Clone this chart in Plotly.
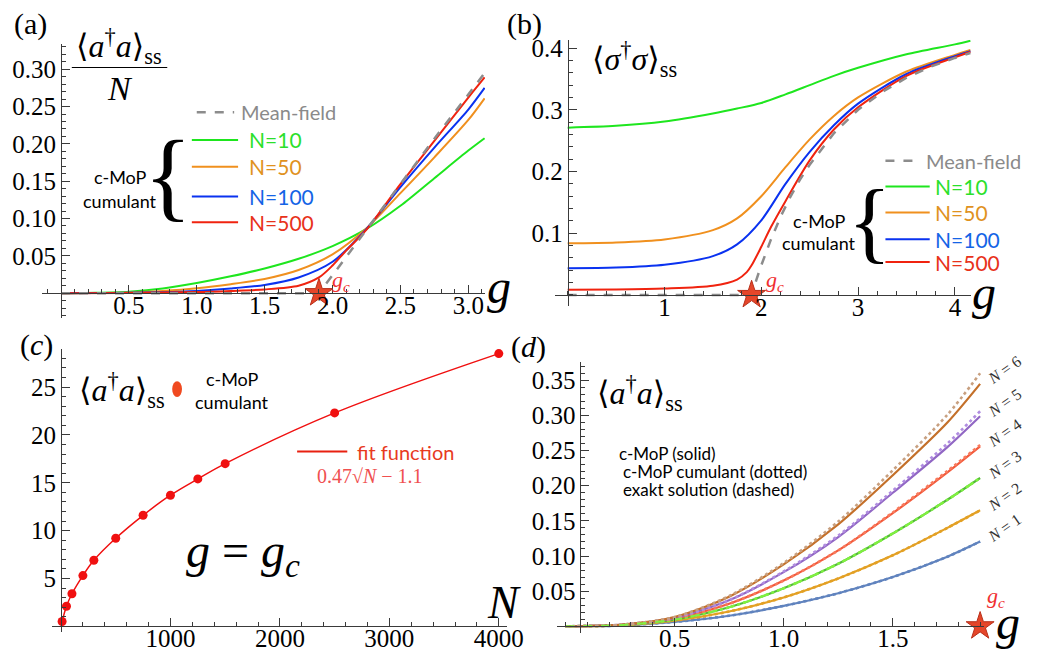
import plotly.graph_objects as go

# ---------------- data ----------------
gc = 1.9

# panel (a): <a^dag a>_ss / N vs g
a_g = [0.0, 0.25, 0.5, 0.75, 1.0, 1.25, 1.5, 1.75, 2.0, 2.25, 2.5, 2.75, 3.0, 3.12]
a_N10 = [0.0, 0.0005, 0.002, 0.0062, 0.0135, 0.0225, 0.033, 0.046, 0.063, 0.086, 0.117, 0.154, 0.191, 0.2075]
a_N50 = [0.0, 0.0002, 0.001, 0.003, 0.0065, 0.012, 0.019, 0.031, 0.052, 0.087, 0.134, 0.182, 0.232, 0.261]
a_N100 = [0.0, 0.0001, 0.0004, 0.0012, 0.003, 0.0062, 0.011, 0.021, 0.042, 0.086, 0.142, 0.195, 0.246, 0.275]
a_N500_g = [0.0, 0.5, 1.0, 1.25, 1.5, 1.75, 1.9, 2.0, 2.1, 2.25, 2.5, 2.75, 3.0, 3.12]
a_N500 = [0.0, 0.0003, 0.0015, 0.003, 0.005, 0.010, 0.021, 0.037, 0.057, 0.085, 0.146, 0.204, 0.262, 0.289]
a_mf_g = [0.0, 1.9, 2.0, 2.25, 2.5, 2.75, 3.0, 3.12]
a_mf = [0.0, 0.0, 0.024, 0.085, 0.147, 0.207, 0.266, 0.295]

# panel (b): <sigma^dag sigma>_ss vs g
b_g = [0.0, 0.5, 1.0, 1.5, 1.75, 2.0, 2.25, 2.5, 2.75, 3.0, 3.5, 4.0, 4.16]
b_N10 = [0.271, 0.274, 0.281, 0.294, 0.302, 0.311, 0.325, 0.340, 0.355, 0.368, 0.390, 0.406, 0.412]
b_N50 = [0.0836, 0.085, 0.090, 0.105, 0.124, 0.160, 0.207, 0.252, 0.290, 0.320, 0.362, 0.389, 0.397]
b_N100 = [0.0434, 0.0445, 0.049, 0.063, 0.082, 0.121, 0.180, 0.232, 0.275, 0.310, 0.358, 0.387, 0.395]
b_N500_g = [0.0, 0.5, 1.0, 1.5, 1.75, 1.85, 1.9, 2.0, 2.1, 2.25, 2.5, 2.75, 3.0, 3.5, 4.0, 4.16]
b_N500 = [0.0086, 0.009, 0.0105, 0.015, 0.025, 0.037, 0.048, 0.078, 0.110, 0.152, 0.218, 0.268, 0.304, 0.355, 0.385, 0.394]
b_mf_g = [0.0, 1.9, 1.95, 2.0, 2.1, 2.2, 2.3, 2.4, 2.5, 2.75, 3.0, 3.25, 3.5, 3.75, 4.0, 4.16]
b_mf = [0.0, 0.0, 0.025, 0.048, 0.090, 0.127, 0.159, 0.187, 0.211, 0.262, 0.300, 0.329, 0.352, 0.370, 0.384, 0.392]

# panel (c): <a^dag a>_ss at g = g_c vs N
c_N = [10, 50, 100, 200, 300, 500, 750, 1000, 1250, 1500, 2500, 4000]
c_val = [0.5, 2.1, 3.4, 5.3, 6.9, 9.2, 11.6, 13.7, 15.4, 17.0, 22.3, 28.5]

# panel (d): <a^dag a>_ss vs g for N = 1..6
d_g = [0.0, 0.1, 0.25, 0.5, 0.75, 1.0, 1.25, 1.5, 1.75, 1.9]
d_N1 = [0.0, 0.0002, 0.001, 0.0062, 0.015, 0.029, 0.047, 0.070, 0.099, 0.1205]
d_N2 = [0.0, 0.0002, 0.0013, 0.008, 0.021, 0.041, 0.068, 0.101, 0.140, 0.165]
d_N3 = [0.0, 0.0003, 0.0016, 0.0095, 0.027, 0.054, 0.089, 0.132, 0.180, 0.211]
d_N4 = [0.0, 0.0003, 0.0018, 0.011, 0.032, 0.065, 0.108, 0.161, 0.219, 0.256]
d_N5 = [0.0, 0.0004, 0.002, 0.012, 0.037, 0.077, 0.127, 0.190, 0.255, 0.299]
d_N6 = [0.0, 0.0004, 0.002, 0.013, 0.042, 0.088, 0.145, 0.215, 0.290, 0.345]
d_N4_dot = [0.0, 0.0003, 0.0018, 0.011, 0.032, 0.065, 0.108, 0.162, 0.221, 0.258]
d_N5_dot = [0.0, 0.0004, 0.002, 0.012, 0.037, 0.078, 0.129, 0.193, 0.260, 0.306]
d_N6_dot = [0.0, 0.0004, 0.002, 0.013, 0.043, 0.090, 0.149, 0.222, 0.301, 0.360]

a_ticks_x = [0.5, 1.0, 1.5, 2.0, 2.5, 3.0]
a_ticks_y = [0.05, 0.10, 0.15, 0.20, 0.25, 0.30]
b_ticks_x = [1, 2, 3, 4]
b_ticks_y = [0.1, 0.2, 0.3, 0.4]
c_ticks_x = [1000, 2000, 3000, 4000]
c_ticks_y = [5, 10, 15, 20, 25]
d_ticks_x = [0.5, 1.0, 1.5]
d_ticks_y = [0.05, 0.10, 0.15, 0.20, 0.25, 0.30, 0.35]

# ---------------- styling ----------------
W, H = 1051, 662
SERIF = "Liberation Serif, Times New Roman, DejaVu Serif, serif"
SANS = "Lato, Open Sans, sans-serif"
AX = "#3a3a3a"

C_GREEN, C_ORANGE, C_BLUE, C_RED, C_MF = "#1EE61E", "#F0901E", "#0A32F0", "#F0230F", "#8C8C8C"
T_GREEN, T_ORANGE, T_BLUE, T_RED, T_MF = "#2BE02B", "#E0921E", "#1464E6", "#E8321A", "#8A8A8A"
D_COLS = ["#6083BE", "#E3A024", "#55B83C", "#F25A3C", "#9167C4", "#C4702A"]
D_DOT = ["#6083BE", "#E3A024", "#7CF040", "#F87A5C", "#B08CE0", "#C8A080"]

fig = go.Figure()


def fmt(v, nd):
    return f"{v:.{nd}f}"


def setup(idx, xpx, ypx, xr, yr, xcross, xt, xtt, yt, ytt, xminor, yminor):
    xd = [xpx[0] / W, xpx[1] / W]
    yd = [1 - ypx[1] / H, 1 - ypx[0] / H]
    ypos = yd[0] + (0 - yr[0]) / (yr[1] - yr[0]) * (yd[1] - yd[0])
    xpos = xd[0] + (xcross - xr[0]) / (xr[1] - xr[0]) * (xd[1] - xd[0])
    common = dict(showgrid=False, zeroline=False, showline=True, linecolor=AX, linewidth=1,
                  ticks="inside", ticklen=8, tickwidth=1, tickcolor=AX,
                  tickfont=dict(family=SERIF, size=25, color="black"), anchor="free",
                  tickmode="array")
    sfx = "" if idx == 1 else str(idx)
    fig.layout["xaxis" + sfx] = dict(common, domain=xd, range=list(xr), position=ypos,
                                     tickvals=xt, ticktext=xtt, ticklabelstandoff=-10,
                                     minor=dict(ticks="inside", ticklen=4, tickwidth=1, tickcolor=AX,
                                                tickmode="linear", tick0=0, dtick=xminor, showgrid=False))
    fig.layout["yaxis" + sfx] = dict(common, domain=yd, range=list(yr), position=xpos, side="left",
                                     tickvals=yt, ticktext=ytt,
                                     minor=dict(ticks="inside", ticklen=4, tickwidth=1, tickcolor=AX,
                                                tickmode="linear", tick0=0, dtick=yminor, showgrid=False))


setup(1, (43, 493), (39, 315), (-0.1377, 3.1232), (-0.0328, 0.3342), 0.0,
      a_ticks_x, [fmt(v, 1) for v in a_ticks_x], a_ticks_y, [fmt(v, 2) for v in a_ticks_y], 0.1, 0.01)
setup(2, (564, 987), (35, 303), (-0.1322, 4.1667), (-0.0174, 0.4135), 0.0,
      b_ticks_x, [str(v) for v in b_ticks_x], b_ticks_y, [fmt(v, 1) for v in b_ticks_y], 0.2, 0.02)
setup(3, (53, 515), (347, 632), (-81, 4072), (-0.62, 28.94), 0.0,
      c_ticks_x, [str(v) for v in c_ticks_x], c_ticks_y, [str(v) for v in c_ticks_y], 200, 1)
setup(4, (566, 1000), (360, 633), (-0.039, 1.917), (-0.0099, 0.3757), 0.069,
      d_ticks_x, [fmt(v, 1) for v in d_ticks_x], d_ticks_y, [fmt(v, 2) for v in d_ticks_y], 0.1, 0.01)


def line(x, y, color, ax, width=2.0, dash=None, shape="spline"):
    fig.add_trace(go.Scatter(x=x, y=y, mode="lines", xaxis="x" + ax, yaxis="y" + ax,
                             line=dict(color=color, width=width, dash=dash, shape=shape,
                                       smoothing=0.8 if shape == "spline" else None),
                             hoverinfo="skip"))


def star(ax):
    fig.add_trace(go.Scatter(x=[gc], y=[0], mode="markers", xaxis="x" + ax, yaxis="y" + ax,
                             cliponaxis=False,
                             marker=dict(symbol="star", size=21, color="#E5462A",
                                         line=dict(color="#B8301A", width=1)),
                             hoverinfo="skip"))


# (a)
line(a_g, a_N10, C_GREEN, "")
line(a_g, a_N50, C_ORANGE, "")
line(a_g, a_N100, C_BLUE, "")
line(a_N500_g, a_N500, C_RED, "")
line(a_mf_g, a_mf, C_MF, "", width=2.5, dash="dash", shape="linear")
star("")

# (b)
line(b_g, b_N10, C_GREEN, "2")
line(b_g, b_N50, C_ORANGE, "2")
line(b_g, b_N100, C_BLUE, "2")
line(b_N500_g, b_N500, C_RED, "2")
line(b_mf_g, b_mf, C_MF, "2", width=2.5, dash="dash", shape="linear")
star("2")

# (c)
fig.add_trace(go.Scatter(x=c_N, y=c_val, mode="lines", xaxis="x3", yaxis="y3",
                         line=dict(color="#F01010", width=1.5, shape="spline"), hoverinfo="skip"))
fig.add_trace(go.Scatter(x=c_N, y=c_val, mode="markers", xaxis="x3", yaxis="y3", cliponaxis=False,
                         marker=dict(color="#F01010", size=9), hoverinfo="skip"))

# (d)
d_series = [d_N1, d_N2, d_N3, d_N4, d_N5, d_N6]
d_dots = [d_N1, d_N2, d_N3, d_N4_dot, d_N5_dot, d_N6_dot]
for i in range(6):
    line(d_g, d_series[i], D_COLS[i], "4", width=2.2)
for i in range(6):
    line(d_g, d_dots[i], D_DOT[i], "4", width=2.6, dash="dot")
line(d_g, d_N3, "#80F040", "4", width=2.0, dash="dash")
star("4")

# ---------------- annotations ----------------
anns = []
shapes = []


def ann(text, x, y, size, color="black", family=SERIF, xanchor="center", yanchor="middle", angle=0):
    anns.append(dict(text=text, x=x / W, y=1 - y / H, xref="paper", yref="paper", showarrow=False,
                     font=dict(size=size, color=color, family=family), xanchor=xanchor,
                     yanchor=yanchor, textangle=angle))


def hline(x0, x1, y, color, width=2, dash="solid"):
    shapes.append(dict(type="line", xref="paper", yref="paper", x0=x0 / W, x1=x1 / W,
                       y0=1 - y / H, y1=1 - y / H, line=dict(color=color, width=width, dash=dash)))


ATA = "⟨<i>a</i><sup>†</sup><i>a</i>⟩<sub>ss</sub>"
GC = "<i>g<sub>c</sub></i>"

# panel (a)
ann("(a)", 31, 19, 30)
ann(ATA, 121, 42, 32)
hline(73, 170, 63, "black", 1.2)
ann("<i>N</i>", 122, 84, 34)
hline(200, 238, 108, C_MF, 2.5, "dash")
ann("Mean-field", 243, 108, 20, T_MF, SANS, "left")
for yy, txt, lc, tc in [(136, "N=10", C_GREEN, T_GREEN), (163, "N=50", C_ORANGE, T_ORANGE),
                        (193, "N=100", C_BLUE, T_BLUE), (219, "N=500", C_RED, T_RED)]:
    hline(195, 242, yy, lc, 2)
    ann(txt, 251, yy, 21, tc, SANS, "left")
ann("{", 171, 172, 100)
ann("c-MoP", 122, 173, 18, "black", SANS)
ann("cumulant", 122, 197, 18, "black", SANS)
ann("<i>g</i>", 507, 284, 48)
ann(GC, 347, 278, 22, "#F03030")

# panel (b)
ann("(b)", 533, 19, 30)
ann("⟨<i>σ</i><sup>†</sup><i>σ</i>⟩<sub>ss</sub>", 645, 55, 32)
hline(900, 933, 157, C_MF, 2.5, "dash")
ann("Mean-field", 939, 157, 20, T_MF, SANS, "left")
for yy, txt, lc, tc in [(183, "N=10", C_GREEN, T_GREEN), (209, "N=50", C_ORANGE, T_ORANGE),
                        (236, "N=100", C_BLUE, T_BLUE), (259, "N=500", C_RED, T_RED)]:
    hline(900, 945, yy, lc, 2)
    ann(txt, 948, yy, 21, tc, SANS, "left")
ann("{", 884, 218, 90)
ann("c-MoP", 832, 218, 18, "black", SANS)
ann("cumulant", 832, 240, 18, "black", SANS)
ann("<i>g</i>", 1000, 290, 48)
ann(GC, 788, 278, 22, "#F03030")

# panel (c)
ann("(<i>c</i>)", 37, 343, 30)
ann(ATA, 124, 388, 32)
shapes.append(dict(type="circle", xref="paper", yref="paper", x0=175 / W, x1=185 / W,
                   y0=1 - 395 / H, y1=1 - 379 / H, fillcolor="#F04A20", line=dict(width=0)))
ann("c-MoP", 236, 377, 18, "black", SANS)
ann("cumulant", 236, 400, 18, "black", SANS)
hline(302, 353, 450, "#E82010", 2)
ann("fit function", 361, 450, 20, "#E83A1E", SANS, "left")
ann("0.47√<i>N</i> − 1.1", 376, 475, 20, "#F05050")
ann("<i>g</i> = <i>g<sub>c</sub></i>", 247, 553, 48)
ann("<i>N</i>", 512, 602, 46)

# panel (d)
ann("(<i>d</i>)", 537, 345, 30)
ann(ATA, 651, 391, 32)
ann("c-MoP (solid)", 627, 452, 17, "black", SANS, "left")
ann("c-MoP cumulant (dotted)", 631, 470, 17, "black", SANS, "left")
ann("exakt solution (dashed)", 631, 488, 17, "black", SANS, "left")
ann("<i>g</i>", 1025, 622, 48)
ann(GC, 1012, 597, 22, "#F03030")
for i, s in enumerate(d_series):
    anns.append(dict(text=f"<i>N</i> = {i + 1}", x=gc, y=s[-1], xref="x4", yref="y4",
                     showarrow=False, xanchor="left", yanchor="middle", xshift=2, yshift=14,
                     textangle=-35, font=dict(size=16, family=SERIF, color="#333333")))

fig.update_layout(width=W, height=H, margin=dict(l=0, r=0, t=0, b=0), autosize=False,
                  font=dict(family=SERIF),
                  paper_bgcolor="white", plot_bgcolor="white", showlegend=False,
                  annotations=anns, shapes=shapes)

fig.write_html("out.html")
